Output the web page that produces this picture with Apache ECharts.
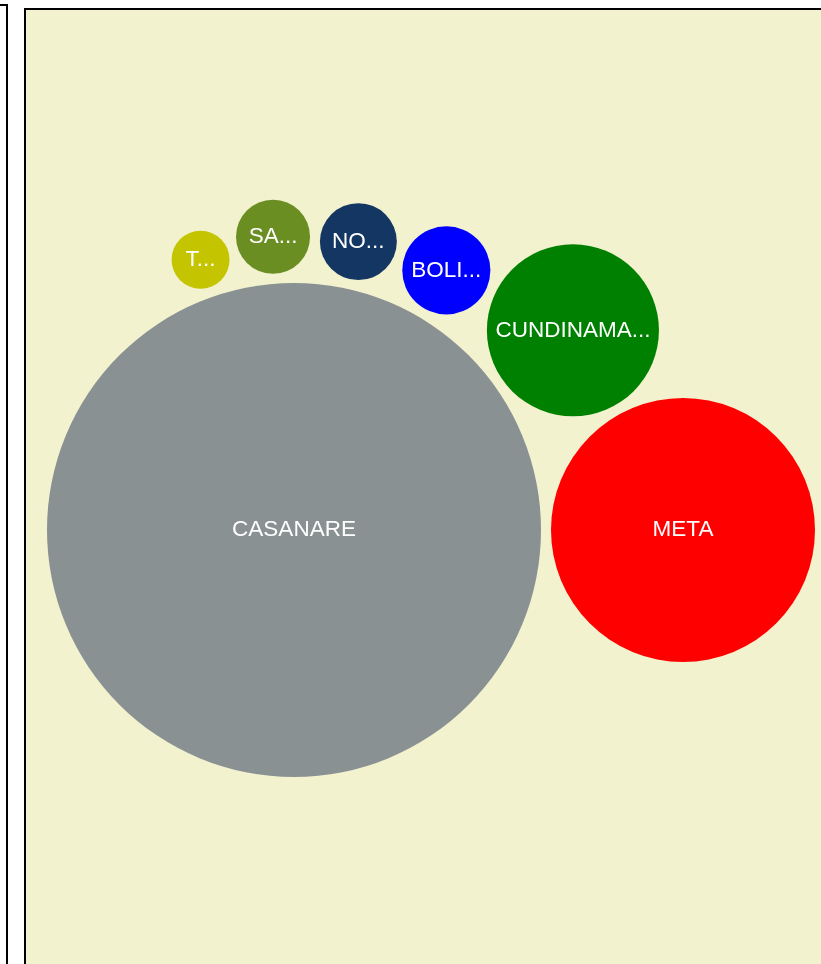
<!DOCTYPE HTML>
<html>
	<head>
		<meta http-equiv="Content-type" content="text/html; charset=UTF-8" />
		<script type="text/javascript" src="https://cdn.jsdelivr.net/npm/echarts@6/dist/echarts.min.js"></script>
		<style>
			body { margin: 0; overflow: hidden; background: #fff; }
			#box_left { position: absolute; left: -20px; top: 4px; width: 28px; height: 1000px; border: 2px solid #000; box-sizing: border-box; background: #fff; }
			#box_main { position: absolute; left: 24px; top: 8px; width: 900px; height: 1000px; border: 2px solid #000; box-sizing: border-box; background: #f2f2ce; }
			#div_1 { position: absolute; left: 0; top: 0; width: 821px; height: 964px; }
		</style>
	</head>
	<body>
		<div id="box_left"></div>
		<div id="box_main"></div>
		<div id="div_1"></div>
	</body>
</html>

<script>
	// departamentos y valores (el radio sale del area)
	var names = ['CASANARE', 'META', 'CUNDINAMARCA', 'BOLIVAR', 'NORTE DE SANTANDER', 'SANTANDER', 'TOLIMA']
	var values = [61000, 17420, 7400, 1940, 1480, 1370, 840]
	var colors = ['#899193', '#ff0000', '#008000', '#0000ff', '#133762', '#6b8e23', '#c4c400']

	var maxRadius = 247   // radio de la burbuja mayor en px
	var gap = 10          // separacion entre burbujas
	var center = [294, 530] // donde va la burbuja mayor

	// empaquetado: cada burbuja toca la mayor y la anterior, girando hacia arriba
	function packBubbles(vals) {
		var vmax = Math.max.apply(null, vals)
		var r = vals.map(function (v) { return maxRadius * Math.sqrt(v / vmax) })
		var pos = [[0, 0], [r[0] + r[1] + gap, 0]]
		for (var i = 2; i < vals.length; i++) {
			var prev = pos[i - 1]
			var D = Math.sqrt(prev[0] * prev[0] + prev[1] * prev[1])
			var d0 = r[0] + r[i] + gap
			var d1 = r[i - 1] + r[i] + gap
			var cosT = (d0 * d0 + D * D - d1 * d1) / (2 * d0 * D)
			var ang = Math.atan2(prev[1], prev[0]) - Math.acos(Math.max(-1, Math.min(1, cosT)))
			pos.push([d0 * Math.cos(ang), d0 * Math.sin(ang)])
		}
		return vals.map(function (v, i) {
			return { x: center[0] + pos[i][0], y: center[1] + pos[i][1], r: r[i] }
		})
	}

	var packed = packBubbles(values)
	var data = packed.map(function (p, i) {
		return {
			name: names[i],
			value: [p.x, p.y, values[i]],
			symbolSize: p.r * 2,
			itemStyle: { color: colors[i] },
			label: { width: p.r * 2 - 12 }
		}
	})

	var myChart = echarts.init(document.getElementById('div_1'))
	var option = {
		animation: false,
		grid: { left: 0, right: 0, top: 0, bottom: 0 },
		xAxis: { type: 'value', min: 0, max: 821, show: false },
		yAxis: { type: 'value', min: 0, max: 964, inverse: true, show: false },
		series: [{
			type: 'scatter',
			data: data,
			itemStyle: { opacity: 1 },
			label: {
				show: true,
				position: 'inside',
				formatter: '{b}',
				color: '#ffffff',
				fontSize: 22.5,
				fontFamily: 'Arial, "Liberation Sans", sans-serif',
				textBorderWidth: 0,
				overflow: 'truncate'
			},
			emphasis: { disabled: true }
		}]
	}
	myChart.setOption(option)
</script>
